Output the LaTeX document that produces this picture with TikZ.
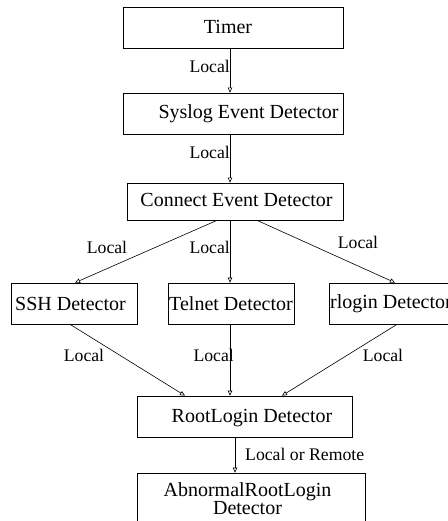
\documentclass[tikz,border=0pt]{standalone}
\usepackage{fontspec}
\setmainfont{Liberation Serif}
\usetikzlibrary{arrows.meta,calc}
\begin{document}
\begin{tikzpicture}[x=1pt,y=-1pt,
  box/.style={draw,line width=0.7pt,inner sep=0pt},
  txt/.style={font=\fontsize{20}{21}\selectfont,inner sep=0pt},
  lbl/.style={font=\fontsize{17.7}{19}\selectfont,inner sep=0pt},
  conn/.style={line width=0.6pt,-{Triangle[open,length=5pt,width=4.5pt]}}]
\useasboundingbox (0,0) rectangle (447,521);
% boxes
\node[box,minimum width=220pt,minimum height=41pt] (timer) at (233,27.5) {};
\node[box,minimum width=220pt,minimum height=41pt] (syslog) at (233,113.5) {};
\node[box,minimum width=216pt,minimum height=37pt] (connect) at (235,201.5) {};
\node[box,minimum width=126pt,minimum height=41pt] (ssh) at (74,303.5) {};
\node[box,minimum width=126pt,minimum height=41pt] (telnet) at (231,303.5) {};
\node[box,minimum width=126pt,minimum height=41pt] (rlogin) at (392,303.5) {};
\node[box,minimum width=215pt,minimum height=41pt] (root) at (244.5,416.5) {};
\node[box,minimum width=228pt,minimum height=60pt] (abn) at (251,503) {};
% texts
\node[txt] (ttimer) at (228,27) {Timer};
\node[txt] (tsyslog) at (248.5,114) {Syslog Event Detector};
\node[txt] (tconnect) at (236.5,200) {Connect Event Detector};
\node[txt] (tssh) at (70.5,304) {SSH Detector};
\node[txt] (ttelnet) at (231,304) {Telnet Detector};
\node[txt,anchor=west] (trlogin) at (330,304) {rlogin Detector};
\node[txt] (troot) at (252,418) {RootLogin Detector};
\node[txt,align=center,font=\fontsize{20}{18}\selectfont] (tabn) at (247.5,499) {AbnormalRootLogin\\Detector};
% connectors
\draw[conn] ([xshift=-3pt]timer.south) -- ([xshift=-3pt]syslog.north);
\draw[conn] ([xshift=-3pt]syslog.south) -- ([xshift=-5pt]connect.north);
\draw[conn] ([xshift=-18pt]connect.south) -- ([xshift=1pt]ssh.north);
\draw[conn] ([xshift=-5pt]connect.south) -- ([xshift=-1pt]telnet.north);
\draw[conn] ([xshift=22pt]connect.south) -- ([xshift=3pt]rlogin.north);
\draw[conn] ([xshift=-4pt]ssh.south) -- ([xshift=-59.5pt]root.north);
\draw[conn] ([xshift=-1pt]telnet.south) -- ([xshift=-14.5pt]root.north);
\draw[conn] ([xshift=5pt]rlogin.south) -- ([xshift=37.5pt]root.north);
\draw[conn] ([xshift=-9.5pt]root.south) -- ([xshift=-16pt]abn.north);
% labels
\node[lbl,anchor=east] (l1) at (230,66) {Local};
\node[lbl,anchor=east] (l2) at (230,152) {Local};
\node[lbl] (l3) at (107,247) {Local};
\node[lbl,anchor=east] (l4) at (230,247) {Local};
\node[lbl] (l5) at (358,242) {Local};
\node[lbl] (l6) at (84,355) {Local};
\node[lbl,anchor=east] (l7) at (234,355) {Local};
\node[lbl] (l8) at (383,355) {Local};
\node[lbl,anchor=west] (l9) at (245,454) {Local or Remote};
\end{tikzpicture}
\end{document}
